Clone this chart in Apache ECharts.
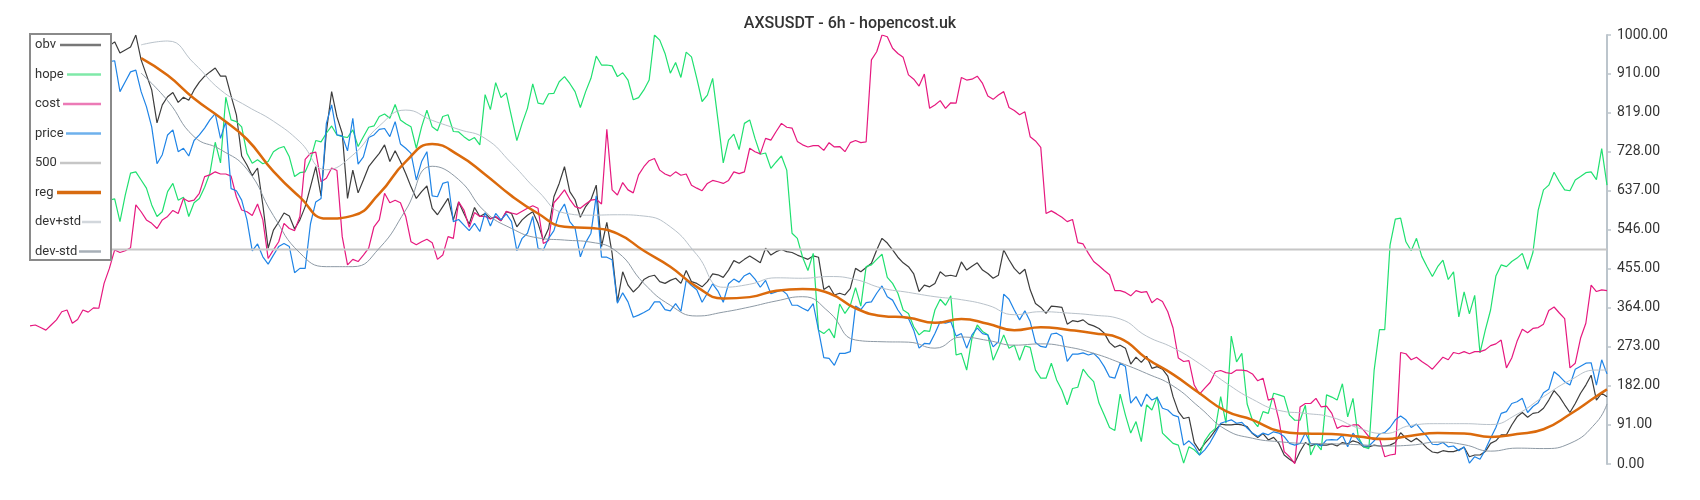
<!DOCTYPE html>
<html>
<head>
<meta charset="utf-8">
<title>AXSUSDT - 6h</title>
<script src="https://cdn.jsdelivr.net/npm/echarts@6/dist/echarts.min.js"></script>
<style>
  html, body { margin: 0; padding: 0; background: #fff; }
  #chart { width: 1700px; height: 500px; }
</style>
</head>
<body>
<div id="chart"></div>
<script>
// values are on a 0..1000 scale, one per 6h candle
const obv = [
  960, 955, 965, 970, 962, 958, 968, 975, 970, 980,
  972, 965, 975, 985, 978, 975, 984, 958, 965, 972,
  1000, 942, 907, 872, 795, 837, 856, 866, 843, 855,
  848, 872, 890, 904, 914, 923, 904, 904, 858, 814,
  718, 697, 672, 690, 604, 503, 545, 564, 585, 578,
  548, 569, 600, 646, 693, 625, 774, 868, 809, 771,
  619, 685, 632, 662, 693, 709, 724, 744, 705, 730,
  705, 677, 646, 619, 635, 648, 596, 581, 600, 619,
  569, 611, 584, 559, 598, 577, 584, 572, 576, 567,
  588, 584, 553, 569, 580, 588, 561, 522, 549, 623,
  654, 693, 635, 616, 575, 600, 616, 650, 507, 563,
  491, 378, 448, 417, 401, 413, 430, 437, 440, 425,
  421, 428, 433, 421, 451, 425, 421, 413, 425, 443,
  441, 435, 452, 474, 468, 477, 485, 477, 469, 503,
  487, 495, 500, 495, 493, 487, 482, 477, 485, 482,
  407, 415, 394, 398, 394, 409, 456, 448, 458, 468,
  499, 526, 515, 499, 482, 469, 460, 443, 402, 417,
  413, 421, 448, 438, 440, 437, 471, 452, 461, 469,
  452, 444, 433, 440, 499, 476, 456, 443, 454, 406,
  374, 365, 351, 368, 367, 365, 326, 334, 332, 336,
  326, 322, 316, 305, 283, 272, 277, 270, 233, 249,
  237, 251, 223, 227, 221, 205, 157, 122, 106, 109,
  50, 31, 48, 62, 79, 93, 91, 91, 93, 91,
  87, 71, 62, 71, 56, 62, 48, 21, 11, 3,
  29, 50, 42, 47, 44, 44, 47, 42, 50, 47,
  54, 50, 40, 40, 44, 42, 42, 44, 50, 73,
  60, 52, 60, 50, 37, 28, 26, 31, 29, 29,
  33, 39, 17, 21, 21, 29, 48, 54, 68, 68,
  91, 110, 120, 109, 118, 120, 130, 149, 171, 157,
  138, 120, 141, 165, 184, 207, 149, 165, 157
];
const hope = [
  600, 610, 590, 620, 640, 630, 600, 615, 625, 600,
  590, 610, 630, 620, 600, 615, 618, 565, 627, 678,
  681, 662, 643, 604, 577, 588, 635, 654, 615, 622,
  577, 609, 619, 645, 678, 750, 702, 855, 802, 798,
  786, 724, 701, 709, 700, 705, 728, 736, 740, 716,
  670, 679, 681, 709, 754, 751, 771, 788, 767, 763,
  761, 779, 740, 763, 785, 788, 810, 816, 806, 838,
  802, 793, 786, 736, 786, 825, 786, 777, 810, 814,
  775, 774, 763, 754, 761, 744, 861, 826, 889, 854,
  865, 809, 754, 794, 829, 886, 841, 839, 863, 864,
  891, 903, 887, 868, 831, 868, 899, 951, 930, 930,
  928, 903, 912, 895, 849, 854, 872, 895, 1000, 988,
  957, 911, 936, 901, 960, 949, 899, 845, 860, 899,
  802, 702, 755, 769, 733, 794, 802, 759, 722, 725,
  689, 704, 718, 685, 538, 526, 482, 451, 491, 312,
  304, 315, 294, 373, 351, 369, 411, 368, 460, 464,
  477, 489, 435, 421, 398, 359, 351, 320, 301, 311,
  309, 359, 384, 370, 392, 254, 258, 219, 293, 324,
  309, 301, 242, 270, 301, 270, 277, 242, 275, 272,
  219, 200, 200, 235, 196, 172, 138, 176, 179, 221,
  205, 192, 142, 114, 85, 78, 163, 114, 72, 99,
  52, 138, 126, 157, 72, 60, 48, 44, 2, 40,
  33, 21, 54, 72, 83, 157, 95, 298, 238, 258,
  140, 102, 87, 122, 118, 165, 161, 157, 114, 102,
  102, 137, 21, 48, 33, 161, 156, 149, 187, 110,
  153, 63, 40, 36, 219, 313, 313, 510, 571, 573,
  518, 497, 526, 484, 460, 437, 460, 475, 430, 448,
  343, 401, 350, 393, 259, 312, 359, 438, 464, 460,
  472, 480, 491, 454, 493, 592, 639, 650, 680, 658,
  639, 637, 662, 670, 679, 681, 663, 735, 650
];
const cost = [
  322, 324, 318, 312, 324, 336, 355, 359, 328, 337,
  359, 354, 364, 363, 421, 456, 499, 493, 497, 504,
  604, 588, 569, 561, 549, 569, 577, 591, 584, 619,
  612, 615, 631, 670, 674, 681, 676, 676, 671, 623,
  592, 588, 579, 606, 569, 479, 499, 518, 561, 549,
  544, 577, 710, 724, 727, 658, 666, 690, 684, 530,
  464, 477, 472, 487, 503, 553, 569, 631, 609, 615,
  609, 577, 518, 511, 518, 524, 516, 477, 487, 530,
  526, 611, 592, 552, 586, 577, 577, 571, 577, 567,
  589, 585, 582, 589, 596, 602, 596, 514, 521, 609,
  623, 639, 617, 600, 596, 606, 615, 617, 606, 780,
  639, 627, 656, 639, 632, 674, 693, 707, 712, 685,
  676, 671, 681, 673, 676, 650, 643, 637, 654, 661,
  658, 654, 661, 681, 677, 681, 736, 728, 723, 759,
  755, 775, 794, 785, 783, 752, 744, 739, 742, 742,
  731, 749, 739, 740, 728, 749, 754, 749, 751, 942,
  961, 1000, 996, 969, 957, 948, 907, 897, 881, 909,
  829, 837, 847, 829, 842, 841, 901, 895, 897, 904,
  887, 858, 850, 860, 868, 831, 824, 814, 821, 763,
  753, 738, 584, 590, 583, 575, 565, 570, 516, 513,
  491, 472, 462, 451, 441, 404, 404, 400, 392, 404,
  400, 402, 376, 386, 379, 355, 317, 247, 239, 241,
  184, 163, 177, 190, 215, 218, 213, 211, 219, 219,
  217, 210, 194, 200, 149, 153, 103, 29, 17, 1,
  133, 141, 141, 153, 133, 135, 118, 83, 89, 87,
  91, 91, 79, 64, 56, 60, 17, 21, 23, 260,
  257, 243, 249, 239, 231, 221, 235, 249, 243, 260,
  257, 262, 257, 262, 262, 266, 276, 280, 289, 224,
  247, 286, 314, 306, 316, 318, 326, 358, 366, 352,
  339, 224, 235, 293, 328, 417, 402, 406, 404
];
const price = [
  930, 925, 935, 940, 930, 925, 935, 945, 940, 935,
  930, 940, 945, 940, 935, 938, 940, 868, 891, 914,
  918, 868, 833, 786, 700, 721, 767, 779, 728, 736,
  718, 754, 767, 783, 802, 817, 759, 798, 642, 637,
  615, 569, 497, 513, 483, 466, 487, 507, 514, 507,
  446, 456, 456, 560, 611, 619, 794, 837, 767, 765,
  730, 806, 699, 716, 761, 767, 780, 782, 763, 798,
  746, 736, 724, 662, 705, 728, 625, 623, 654, 658,
  565, 570, 557, 544, 561, 542, 586, 555, 584, 569,
  583, 565, 497, 526, 538, 577, 503, 499, 526, 544,
  586, 606, 565, 550, 483, 516, 538, 625, 482, 482,
  476, 375, 399, 378, 342, 347, 353, 360, 378, 378,
  360, 357, 374, 356, 428, 416, 406, 377, 398, 420,
  403, 377, 420, 431, 424, 439, 445, 431, 412, 428,
  397, 401, 406, 396, 370, 370, 363, 357, 374, 312,
  248, 246, 230, 258, 258, 262, 368, 360, 376, 378,
  398, 415, 390, 382, 359, 342, 339, 312, 270, 281,
  280, 304, 332, 328, 332, 298, 304, 270, 301, 317,
  304, 301, 273, 285, 396, 384, 359, 336, 357, 332,
  283, 274, 272, 303, 305, 298, 239, 256, 256, 259,
  254, 258, 246, 227, 203, 200, 235, 227, 142, 157,
  134, 163, 149, 155, 130, 126, 114, 110, 44, 54,
  42, 21, 33, 50, 72, 95, 99, 103, 95, 97,
  84, 72, 64, 72, 68, 75, 72, 64, 48, 44,
  48, 73, 47, 47, 42, 56, 57, 56, 67, 40,
  72, 56, 42, 42, 54, 70, 73, 85, 103, 112,
  103, 85, 93, 78, 64, 46, 45, 50, 40, 42,
  31, 40, 2, 17, 11, 33, 60, 85, 118, 122,
  141, 145, 153, 120, 134, 143, 166, 174, 215, 205,
  192, 184, 221, 228, 235, 236, 184, 243, 210
];
const level500 = 500;

// regression band, read every 5th candle
const bandIdx = [
  21, 26, 31, 36, 41, 46, 51, 56, 61, 66,
  71, 76, 81, 86, 91, 96, 101, 106, 111, 116,
  121, 126, 131, 136, 141, 146, 151, 156, 161, 166,
  171, 176, 181, 186, 191, 196, 201, 206, 211, 216,
  221, 226, 231, 236, 241, 246, 251, 256, 261, 266,
  271, 276, 281, 286, 291, 296, 298
];
const reg = [
  946, 906, 852, 807, 757, 682, 622, 572, 579, 630,
  705, 746, 720, 675, 625, 584, 553, 550, 537, 497,
  460, 413, 386, 389, 404, 408, 398, 363, 345, 341,
  329, 338, 327, 312, 319, 313, 305, 293, 246, 209,
  165, 123, 103, 77, 71, 70, 64, 58, 66, 72,
  71, 63, 70, 81, 116, 158, 174
];
const devUp = [
  977, 986, 934, 872, 834, 799, 751, 686, 720, 788,
  825, 801, 780, 759, 701, 636, 585, 580, 581, 578,
  553, 488, 412, 419, 434, 433, 437, 430, 410, 400,
  390, 383, 370, 348, 355, 352, 347, 338, 298, 271,
  234, 189, 151, 125, 118, 109, 84, 71, 90, 94,
  94, 92, 116, 157, 195, 219, 219
];
const devDn = [
  911, 847, 763, 733, 687, 579, 492, 460, 460, 503,
  592, 694, 663, 588, 549, 527, 522, 517, 494, 421,
  370, 345, 354, 366, 380, 390, 354, 289, 285, 284,
  270, 296, 288, 277, 280, 273, 258, 236, 211, 182,
  132, 80, 60, 52, 48, 47, 45, 42, 44, 51,
  45, 30, 37, 36, 48, 97, 140
];

const names = ['obv', 'hope', 'cost', 'price', '500', 'reg', 'dev+std', 'dev-std'];
const lineColors = ['#3d3d3d', '#20e070', '#e6197f', '#1f84e6', '#c6c6c6', '#db6a0c', '#b9c2ca', '#8e9aa5'];
const legendColors = ['#777777', '#7fe9a8', '#ec7ab6', '#6eb1ec', '#c6c6c6', '#d86b10', '#d2d7dc', '#a7afb7'];
const legendTextW = [25, 32, 28, 31, 25, 22, 47, 44];
const legendLineW = [41, 34, 38, 35, 41, 44, 19, 22];

const rich = {};
names.forEach((n, k) => {
  rich['t' + k] = { width: legendTextW[k], fontSize: 13, lineHeight: 14, color: '#333', fontFamily: 'Roboto', verticalAlign: 'middle' };
  rich['l' + k] = { width: legendLineW[k], height: k === 5 ? 3.5 : 2.5, backgroundColor: legendColors[k], verticalAlign: 'middle' };
});

const xy = (arr) => arr.map((v, i) => [i, v]);
const bandXY = (arr) => arr.map((v, k) => [bandIdx[k], v]);

const lineSeries = (k, data, width, smooth) => ({
  name: names[k],
  type: 'line',
  data,
  symbol: 'none',
  showSymbol: false,
  smooth: !!smooth,
  lineStyle: { color: lineColors[k], width },
  itemStyle: { color: lineColors[k] },
  emphasis: { disabled: true }
});

const myChart = echarts.init(document.getElementById('chart'));
const option = {
  animation: false,
  backgroundColor: '#fff',
  title: {
    text: 'AXSUSDT - 6h - hopencost.uk',
    left: 'center',
    top: 11,
    textStyle: { fontSize: 16, fontWeight: 500, color: '#333', fontFamily: 'Roboto' }
  },
  grid: { left: 30, right: 93, top: 35, bottom: 36 },
  legend: {
    orient: 'vertical',
    left: 30,
    top: 34,
    align: 'left',
    icon: 'none',
    itemWidth: 0,
    itemHeight: 14,
    itemGap: 16,
    padding: [4, 10, 2, 0],
    backgroundColor: '#fff',
    borderColor: '#8a8a8a',
    borderWidth: 2,
    data: names,
    selectedMode: false,
    formatter: (name) => {
      const k = names.indexOf(name);
      return '{t' + k + '|' + name + '}{l' + k + '|}';
    },
    textStyle: { rich }
  },
  xAxis: { type: 'value', min: 0, max: obv.length - 1, show: false },
  yAxis: {
    type: 'value',
    position: 'right',
    min: 0,
    max: 1000,
    interval: 91,
    splitLine: { show: false },
    axisLine: { show: true, onZero: false, lineStyle: { color: '#bcc5cc', width: 2 } },
    axisTick: { show: true, length: 4, lineStyle: { color: '#bcc5cc', width: 1.5 } },
    axisLabel: {
      color: '#333',
      fontSize: 14,
      fontFamily: 'Roboto',
      margin: 10,
      formatter: (v) => v.toFixed(2)
    }
  },
  series: [
    lineSeries(0, xy(obv), 1.2),
    lineSeries(1, xy(hope), 1.2),
    lineSeries(2, xy(cost), 1.2),
    lineSeries(3, xy(price), 1.2),
    lineSeries(4, xy(obv.map(() => level500)), 2),
    lineSeries(5, bandXY(reg), 2.5, true),
    lineSeries(6, bandXY(devUp), 1, true),
    lineSeries(7, bandXY(devDn), 1, true)
  ]
};
myChart.setOption(option);
</script>
</body>
</html>
